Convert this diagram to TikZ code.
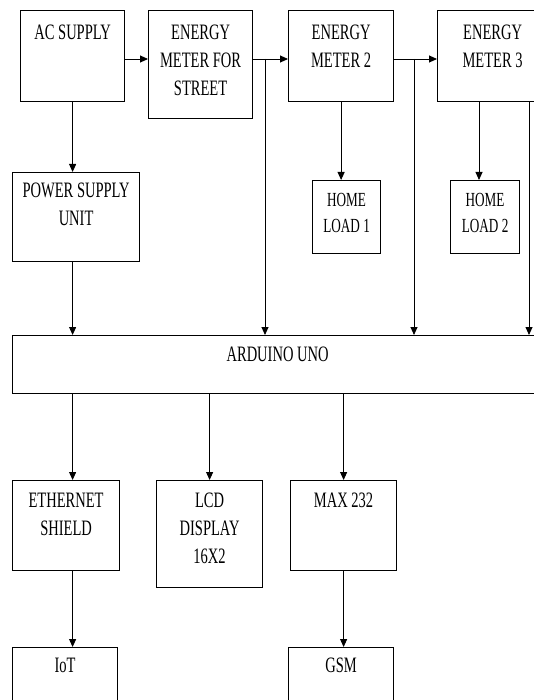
\documentclass[tikz,border=0pt]{standalone}
\usepackage{fontspec}
\setmainfont{Liberation Serif}[FakeStretch=0.66]
\usetikzlibrary{arrows.meta}
\tikzset{
  blk/.style={draw, line width=1.2pt, anchor=north west, inner sep=0pt},
  lbl/.style={anchor=north, align=center, inner sep=0pt, font=\fontsize{22}{28}\selectfont},
  small lbl/.style={lbl, font=\fontsize{20}{26.5}\selectfont},
  arr/.style={line width=0.9pt, -{Triangle[length=8pt,width=7pt]}}
}
\begin{document}
\begin{tikzpicture}[x=1pt, y=-1pt]
  \useasboundingbox (0,0) rectangle (534,700);
  \clip (0,0) rectangle (534,700);
  % top row
  \node[blk, minimum width=104pt, minimum height=91pt] (ac) at (20,10) {};
  \node[blk, minimum width=104pt, minimum height=108pt] (ems) at (148,10) {};
  \node[blk, minimum width=105pt, minimum height=91pt] (em2) at (288,10) {};
  \node[blk, minimum width=110pt, minimum height=91pt] (em3) at (437,10) {};
  \node[lbl] (acT) at ([yshift=-15pt]ac.north) {AC SUPPLY};
  \node[lbl] (emsT) at ([yshift=-15pt]ems.north) {ENERGY\\METER FOR\\STREET};
  \node[lbl] (em2T) at ([yshift=-15pt]em2.north) {ENERGY\\METER 2};
  \node[lbl] (em3T) at ([yshift=-15pt]em3.north) {ENERGY\\METER 3};
  % second row
  \node[blk, minimum width=127pt, minimum height=89pt] (psu) at (12,172) {};
  \node[blk, minimum width=68pt, minimum height=73pt] (h1) at (312,180) {};
  \node[blk, minimum width=69pt, minimum height=73pt] (h2) at (450,180) {};
  \node[lbl] (psuT) at ([yshift=-11pt]psu.north) {POWER SUPPLY\\UNIT};
  \node[small lbl] (h1T) at ([yshift=-13pt]h1.north) {HOME\\LOAD 1};
  \node[small lbl] (h2T) at ([yshift=-13pt]h2.north) {HOME\\LOAD 2};
  % controller
  \node[blk, minimum width=530pt, minimum height=58pt] (ard) at (12,335) {};
  \node[lbl] (ardT) at ([yshift=-11.5pt]ard.north) {ARDUINO UNO};
  % lower rows
  \node[blk, minimum width=107pt, minimum height=90pt] (eth) at (12,480) {};
  \node[blk, minimum width=106pt, minimum height=107pt] (lcd) at (156,480) {};
  \node[blk, minimum width=106pt, minimum height=90pt] (max) at (290,480) {};
  \node[blk, minimum width=105pt, minimum height=90pt] (iot) at (12,647) {};
  \node[blk, minimum width=105pt, minimum height=90pt] (gsm) at (288,647) {};
  \node[lbl] (ethT) at ([yshift=-13pt]eth.north) {ETHERNET\\SHIELD};
  \node[lbl] (lcdT) at ([yshift=-13pt]lcd.north) {LCD\\DISPLAY\\16X2};
  \node[lbl] (maxT) at ([yshift=-13pt]max.north) {MAX 232};
  \node[lbl] (iotT) at ([yshift=-11pt]iot.north) {IoT};
  \node[lbl] (gsmT) at ([yshift=-11pt]gsm.north) {GSM};
  % supply line
  \coordinate (bus) at (0,59);
  \coordinate (j1) at (265,59);
  \coordinate (j2) at (414,59);
  \coordinate (j3) at (529,0);
  \coordinate (k3) at (479,0);
  \draw[arr] (ac.east |- bus) -- (ems.west |- bus);
  \draw[arr] (ems.east |- bus) -- (em2.west |- bus);
  \draw[arr] (em2.east |- bus) -- (em3.west |- bus);
  % meters to arduino
  \draw[arr] (j1) -- (j1 |- ard.north);
  \draw[arr] (j2) -- (j2 |- ard.north);
  \draw[arr] (j3 |- em3.south) -- (j3 |- ard.north);
  % loads
  \draw[arr] (em2.south) -- (em2.south |- h1.north);
  \draw[arr] (k3 |- em3.south) -- (k3 |- h2.north);
  % power supply
  \draw[arr] (ac.south) -- (ac.south |- psu.north);
  \draw[arr] (ac.south |- psu.south) -- (ac.south |- ard.north);
  % outputs
  \draw[arr] (ac.south |- ard.south) -- (ac.south |- eth.north);
  \draw[arr] (lcd.north |- ard.south) -- (lcd.north);
  \draw[arr] (max.north |- ard.south) -- (max.north);
  \draw[arr] (ac.south |- eth.south) -- (ac.south |- iot.north);
  \draw[arr] (max.south) -- (max.south |- gsm.north);
\end{tikzpicture}
\end{document}
